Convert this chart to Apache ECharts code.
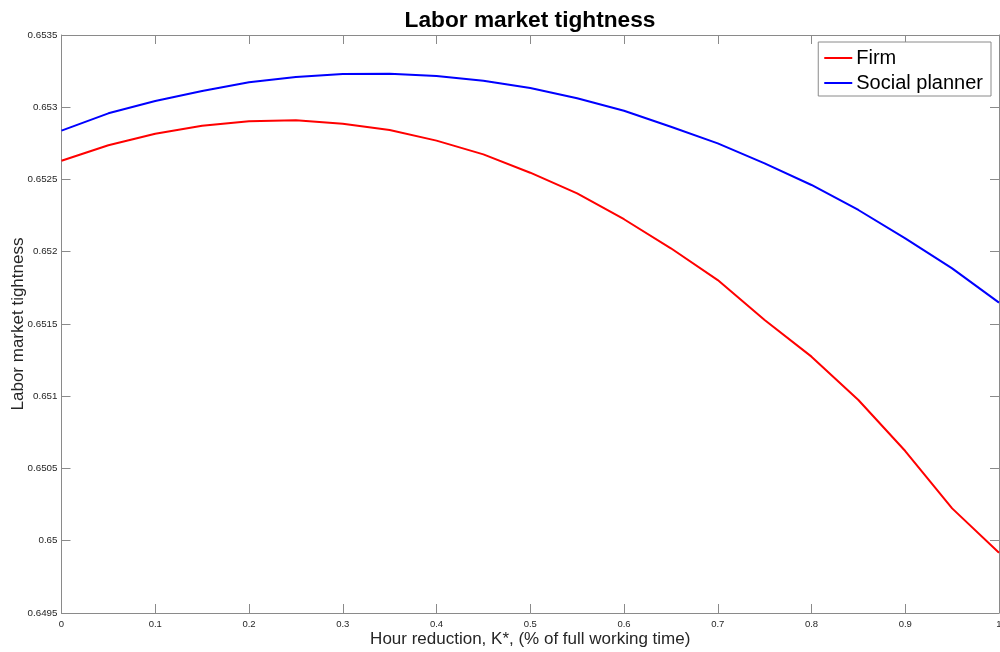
<!DOCTYPE html>
<html>
<head>
<meta charset="utf-8">
<script src="https://cdn.jsdelivr.net/npm/echarts@6/dist/echarts.min.js"></script>
<style>html,body{margin:0;padding:0;background:#fff}#c{width:1000px;height:652px}</style>
</head>
<body>
<div id="c"></div>
<script>
var xValues = [0,0.05,0.1,0.15,0.2,0.25,0.3,0.35,0.4,0.45,0.5,0.55,0.6,0.65,0.7,0.75,0.8,0.85,0.9,0.95,1];
var firm = [0.65263,0.652737,0.652817,0.652872,0.652903,0.65291,0.652886,0.652843,0.652769,0.652674,0.652547,0.652404,0.652225,0.652024,0.651804,0.651528,0.651274,0.650974,0.650621,0.650224,0.649917];
var planner = [0.652838,0.652958,0.653043,0.653112,0.653173,0.653209,0.65323,0.653232,0.653216,0.653184,0.653133,0.653062,0.652976,0.652865,0.65275,0.652612,0.652462,0.652289,0.652093,0.651885,0.651648];
var seriesNames = ['Firm','Social planner'];
var titleText = 'Labor market tightness';
var xTitle = 'Hour reduction, K*, (% of full working time)';
var yTitle = 'Labor market tightness';

function pairs(ys){ return xValues.map(function(x,i){ return [x, ys[i]]; }); }
var axisColor = '#8a8a8a';
var labelColor = '#262626';
var font = 'Liberation Sans, Arial, Helvetica, sans-serif';

var chart = echarts.init(document.getElementById('c'), null, {renderer:'canvas'});
chart.setOption({
  animation:false,
  backgroundColor:'#fff',
  title:{text:titleText,left:525,textAlign:'center',top:4,textStyle:{fontFamily:font,fontSize:22.7,fontWeight:'bold',color:'#000'}},
  grid:{left:61.5,right:1,top:35,bottom:39,containLabel:false,outerBoundsMode:'none',show:false},
  legend:{
    orient:'vertical',right:9,top:42,
    backgroundColor:'#fff',borderColor:'#8a8a8a',borderWidth:1,borderRadius:0,
    padding:[6,8,3,6],itemGap:5,itemWidth:28,itemHeight:2,icon:'rect',
    textStyle:{fontFamily:font,fontSize:20,color:'#000',padding:[0,0,0,-1]},
    data:seriesNames
  },
  xAxis:[{
    type:'value',min:0,max:1,interval:0.1,position:'bottom',
    name:xTitle,nameLocation:'middle',nameGap:18,nameMoveOverlap:false,
    nameTextStyle:{fontFamily:font,fontSize:17,color:labelColor},
    axisLine:{show:true,onZero:false,lineStyle:{color:axisColor,width:1}},
    axisTick:{show:true,inside:true,length:9,lineStyle:{color:axisColor}},
    axisLabel:{fontFamily:font,fontSize:9.5,color:labelColor,margin:6,formatter:function(v){return String(parseFloat(v.toFixed(2)));}},
    splitLine:{show:false}
  },{
    type:'value',min:0,max:1,interval:0.1,position:'top',
    axisLine:{show:true,onZero:false,lineStyle:{color:axisColor,width:1}},
    axisTick:{show:true,inside:true,length:9,lineStyle:{color:axisColor}},
    axisLabel:{show:false},splitLine:{show:false}
  }],
  yAxis:[{
    type:'value',min:0.6495,max:0.6535,interval:0.0005,position:'left',
    name:yTitle,nameLocation:'middle',nameGap:35,nameRotate:90,nameMoveOverlap:false,
    nameTextStyle:{fontFamily:font,fontSize:17,color:labelColor},
    axisLine:{show:true,onZero:false,lineStyle:{color:axisColor,width:1}},
    axisTick:{show:true,inside:true,length:9,lineStyle:{color:axisColor}},
    axisLabel:{fontFamily:font,fontSize:9.8,color:labelColor,margin:4,formatter:function(v){return String(parseFloat(v.toFixed(4)));}},
    splitLine:{show:false}
  },{
    type:'value',min:0.6495,max:0.6535,interval:0.0005,position:'right',
    axisLine:{show:true,onZero:false,lineStyle:{color:axisColor,width:1}},
    axisTick:{show:true,inside:true,length:9,lineStyle:{color:axisColor}},
    axisLabel:{show:false},splitLine:{show:false}
  }],
  series:[
    {name:seriesNames[0],type:'line',data:pairs(firm),symbol:'none',smooth:false,lineStyle:{color:'#ff0000',width:2},itemStyle:{color:'#ff0000'}},
    {name:seriesNames[1],type:'line',data:pairs(planner),symbol:'none',smooth:false,lineStyle:{color:'#0000ff',width:2},itemStyle:{color:'#0000ff'}}
  ]
});
</script>
</body>
</html>
